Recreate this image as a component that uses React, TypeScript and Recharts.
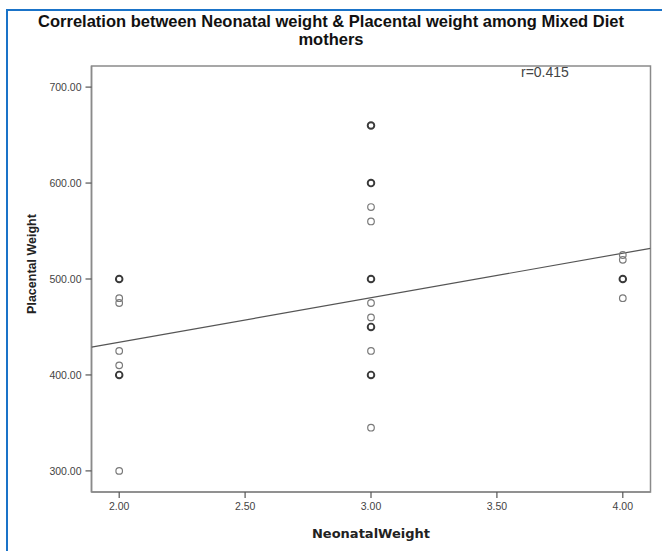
import React from 'react';
import { ScatterChart, Scatter, XAxis, YAxis, ReferenceArea, Label } from 'recharts';

// Neonatal weight categories (x) and placental weight readings (y)
const singleX = [2, 2, 2, 2, 2, 3, 3, 3, 3, 3, 3, 4, 4, 4];
const singleY = [480, 475, 425, 410, 300, 575, 560, 475, 460, 425, 345, 525, 520, 480];
// overlapping (repeated) observations drawn with heavier circles
const multiX = [2, 2, 3, 3, 3, 3, 3, 4];
const multiY = [500, 400, 660, 600, 500, 450, 400, 500];
// fitted regression line end points
const fitX = [1.89, 4.11];
const fitY = [429, 532];

const xTicks = [2, 2.5, 3, 3.5, 4];
const yTicks = [300, 400, 500, 600, 700];
const xDomain: [number, number] = [1.89, 4.11];
const yDomain: [number, number] = [278, 722];

const singles = singleX.map((x, i) => ({ x, y: singleY[i] }));
const multis = multiX.map((x, i) => ({ x, y: multiY[i] }));
const fit = fitX.map((x, i) => ({ x, y: fitY[i] }));

const FONT = '"Liberation Sans", Arial, sans-serif';

const lightCircle = (p: any) => (
  <circle cx={p.cx} cy={p.cy} r={3.3} fill="none" stroke="#7a7a7a" strokeWidth={1.2} />
);
const darkCircle = (p: any) => (
  <circle cx={p.cx} cy={p.cy} r={3.3} fill="none" stroke="#3a3a3a" strokeWidth={1.9} />
);

export default function App() {
  return (
    <div style={{ position: 'absolute', left: 0, top: 0, width: 662, height: 551, background: '#fff', fontFamily: FONT }}>
      <div style={{ position: 'absolute', left: 6, top: 9, right: 0, bottom: 0, borderLeft: '2px solid #1a73c8', borderTop: '2px solid #1a73c8' }} />
      <div style={{ position: 'absolute', left: 0, top: 12, width: 662, textAlign: 'center', fontSize: 16.5, fontWeight: 'bold', lineHeight: '18px', color: '#111' }}>
        Correlation between Neonatal weight &amp; Placental weight among Mixed Diet
        <br />
        mothers
      </div>
      <div style={{ position: 'absolute', left: 521, top: 64, fontSize: 14, color: '#444' }}>r=0.415</div>
      <div style={{ position: 'absolute', left: 0, top: 0 }}>
        <ScatterChart width={662} height={551} margin={{ top: 66, right: 11.5, bottom: 0, left: 0 }} style={{ fontFamily: FONT }}>
          <XAxis
            type="number"
            dataKey="x"
            domain={xDomain}
            ticks={xTicks}
            allowDataOverflow
            tickFormatter={(v: number) => v.toFixed(2)}
            height={59}
            tickSize={6}
            tickMargin={5}
            axisLine={{ stroke: '#8a8a8a', strokeWidth: 1.5 }}
            tickLine={{ stroke: '#555', strokeWidth: 1.2 }}
            tick={{ fontSize: 10.5, fill: '#444' }}
          >
            <Label
              content={(props: any) => {
                const vb = props.viewBox;
                return (
                  <text x={vb.x + vb.width / 2} y={533} textAnchor="middle" dominantBaseline="central" fontSize={13} fontWeight="bold" fill="#222" style={{ fontFamily: '"DejaVu Sans", Verdana, sans-serif' }}>
                    NeonatalWeight
                  </text>
                );
              }}
            />
          </XAxis>
          <YAxis
            type="number"
            dataKey="y"
            domain={yDomain}
            ticks={yTicks}
            allowDataOverflow
            tickFormatter={(v: number) => v.toFixed(2)}
            width={91.5}
            tickSize={6}
            tickMargin={4}
            axisLine={{ stroke: '#8a8a8a', strokeWidth: 1.5 }}
            tickLine={{ stroke: '#555', strokeWidth: 1.2 }}
            tick={{ fontSize: 10.5, fill: '#444' }}
          >
            <Label
              content={() => (
                <text x={32} y={264} transform="rotate(-90 32 264)" textAnchor="middle" dominantBaseline="central" fontSize={12.5} fontWeight="bold" fill="#222">
                  Placental Weight
                </text>
              )}
            />
          </YAxis>
          <ReferenceArea x1={xDomain[0]} x2={xDomain[1]} y1={yDomain[0]} y2={yDomain[1]} fill="none" stroke="#8a8a8a" strokeWidth={1.5} ifOverflow="visible" />
          <Scatter data={fit} line={{ stroke: '#555', strokeWidth: 1.2 }} shape={() => null} isAnimationActive={false} />
          <Scatter data={singles} shape={lightCircle} isAnimationActive={false} />
          <Scatter data={multis} shape={darkCircle} isAnimationActive={false} />
        </ScatterChart>
      </div>
    </div>
  );
}
